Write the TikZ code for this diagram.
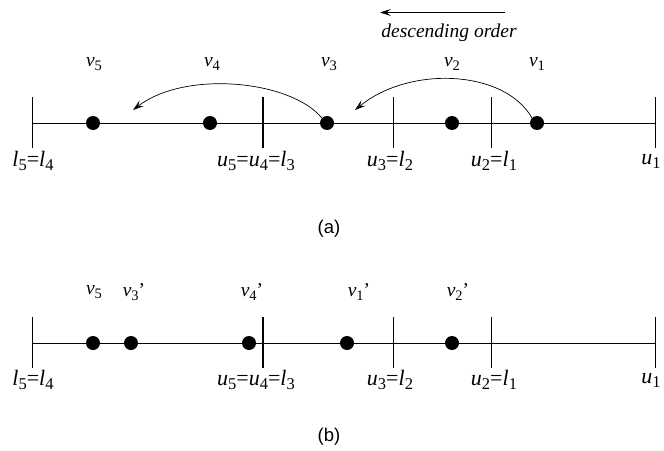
\documentclass[tikz,border=0pt]{standalone}
\usepackage{fontspec}
\setmainfont{Liberation Serif}
\newfontfamily\capfont{Liberation Sans}
\usetikzlibrary{arrows.meta}
\newcommand{\lb}[2]{\textit{#1}\raisebox{-0.4ex}{\fontsize{16.5}{16.5}\selectfont #2}}
\newcommand{\lvb}[2]{\textit{#1}\raisebox{-0.4ex}{\fontsize{14.5}{14.5}\selectfont #2}}
\begin{document}
\begin{tikzpicture}[x=1pt,y=-1pt,
  dot/.style={circle,fill=black,inner sep=0pt,minimum size=14pt},
  tickline/.style={line width=0.8pt},
  thicktick/.style={line width=2.4pt},
  axis/.style={line width=0.8pt},
  lab/.style={inner sep=0pt,font=\fontsize{22}{24}\selectfont},
  vlab/.style={inner sep=0pt,font=\fontsize{19.5}{22}\selectfont},
  captext/.style={inner sep=0pt,font=\capfont\fontsize{18.5}{20}\selectfont},
  arr/.style={line width=0.7pt,-{Stealth[length=11pt,width=7pt,inset=4.5pt]}}]
\useasboundingbox (0,0) rectangle (664,450);
% ---------- (a) ----------
\coordinate (aL) at (32,123);
\coordinate (aR) at (655,123);
\draw[axis] (aL) -- (aR);
\draw[tickline] (32,97) -- (32,148);
\draw[thicktick] (263,97) -- (263,148);
\draw[tickline] (393,97) -- (393,148);
\draw[tickline] (491,97) -- (491,148);
\draw[tickline] (655,97) -- (655,148);
\node[dot] (a5) at (93,123) {};
\node[dot] (a4) at (210,123) {};
\node[dot] (a3) at (327,123) {};
\node[dot] (a2) at (452,123) {};
\node[dot] (a1) at (537,123) {};
\node[vlab] (ta5) at (94,64) {\lvb{v}{5}};
\node[vlab] (ta4) at (212,64) {\lvb{v}{4}};
\node[vlab] (ta3) at (329,64) {\lvb{v}{3}};
\node[vlab] (ta2) at (452,64) {\lvb{v}{2}};
\node[vlab] (ta1) at (537,64) {\lvb{v}{1}};
\node[lab] (ba1) at (33,161) {\lb{l}{5}=\lb{l}{4}};
\node[lab] (ba2) at (256,161) {\lb{u}{5}=\lb{u}{4}=\lb{l}{3}};
\node[lab] (ba3) at (390,161) {\lb{u}{3}=\lb{l}{2}};
\node[lab] (ba4) at (494,161) {\lb{u}{2}=\lb{l}{1}};
\node[lab] (ba5) at (651,161) {\lb{u}{1}};
\coordinate (e3) at (133,110);
\coordinate (e1) at (355,110);
\draw[arr] (a3.north west) .. controls (290,80) and (185,70) .. (e3);
\draw[arr] (a1.north west) .. controls (505,70) and (410,65) .. (e1);
\coordinate (dS) at (505,12.5);
\coordinate (dE) at (380,12.5);
\draw[arr] (dS) -- (dE);
\node[inner sep=0pt,font=\itshape\fontsize{19.5}{22}\selectfont] (desc) at (449,33) {descending order};
\node[captext] (capa) at (329,229) {(a)};
% ---------- (b) ----------
\coordinate (bL) at (32,343);
\coordinate (bR) at (655,343);
\draw[axis] (bL) -- (bR);
\draw[tickline] (32,317) -- (32,368);
\draw[thicktick] (263,317) -- (263,368);
\draw[tickline] (393,317) -- (393,368);
\draw[tickline] (491,317) -- (491,368);
\draw[tickline] (655,317) -- (655,368);
\node[dot] (b5) at (93,343) {};
\node[dot] (b3) at (131,343) {};
\node[dot] (b4) at (249,343) {};
\node[dot] (b1) at (347,343) {};
\node[dot] (b2) at (452,343) {};
\node[vlab] (tb5) at (94,292) {\lvb{v}{5}};
\node[vlab] (tb3) at (134,292) {\lvb{v}{3}'};
\node[vlab] (tb4) at (252,292) {\lvb{v}{4}'};
\node[vlab] (tb1) at (359,292) {\lvb{v}{1}'};
\node[vlab] (tb2) at (458,292) {\lvb{v}{2}'};
\node[lab] (bb1) at (33,380) {\lb{l}{5}=\lb{l}{4}};
\node[lab] (bb2) at (256,380) {\lb{u}{5}=\lb{u}{4}=\lb{l}{3}};
\node[lab] (bb3) at (390,380) {\lb{u}{3}=\lb{l}{2}};
\node[lab] (bb4) at (494,380) {\lb{u}{2}=\lb{l}{1}};
\node[lab] (bb5) at (651,380) {\lb{u}{1}};
\node[captext] (capb) at (329,437) {(b)};
\end{tikzpicture}
\end{document}
